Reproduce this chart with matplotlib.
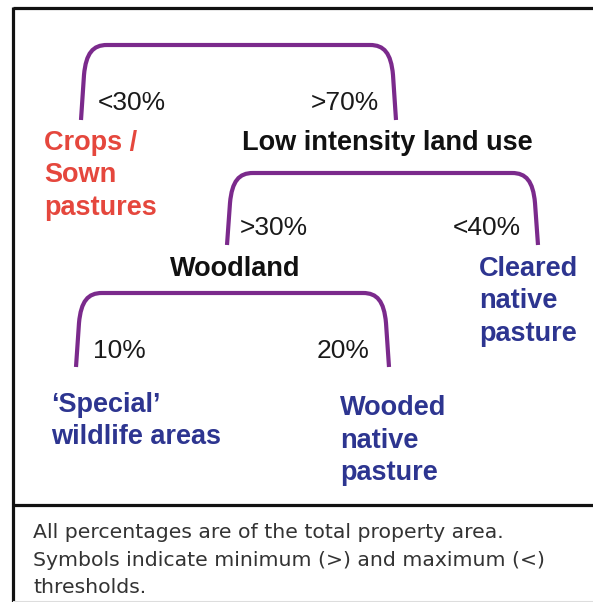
import matplotlib.pyplot as plt
from matplotlib.path import Path
from matplotlib.patches import PathPatch

# Bracket spans of the decision tree (left leg x, right leg x, top y, leg bottom y)
bracket_left = [81, 227, 76]
bracket_right = [396, 538, 389]
bracket_top = [45, 173, 293]
bracket_bottom = [120, 245, 367]

# Threshold labels on each leg
pct_labels = ['<30%', '>70%', '>30%', '<40%', '10%', '20%']
pct_x = [98, 379, 240, 521, 93, 370]
pct_y = [110, 110, 235, 235, 358, 358]
pct_ha = ['left', 'right', 'left', 'right', 'left', 'right']

# Category labels
node_labels = [['Low intensity land use'], ['Woodland']]
node_x = [242, 170]
node_y = [150, 276]

leaf_labels = [['Crops /', 'Sown', 'pastures'],
               ['Cleared', 'native', 'pasture'],
               ['\u2018Special\u2019', 'wildlife areas'],
               ['Wooded', 'native', 'pasture']]
leaf_x = [44, 479, 51, 340]
leaf_y = [150, 276, 412, 415]
leaf_colors = ['#e5473d', '#2d3590', '#2d3590', '#2d3590']

footnote = ['All percentages are of the total property area.',
            'Symbols indicate minimum (>) and maximum (<)',
            'thresholds.']

purple = '#7b2a8c'

fig = plt.figure(figsize=(5.93, 6.02), dpi=100)
ax = fig.add_axes([0, 0, 1, 1])
ax.set_xlim(0, 593)
ax.set_ylim(602, 0)
ax.axis('off')

# frame lines
ax.plot([13, 593], [8, 8], color='#111111', lw=2.3, solid_capstyle='butt')
ax.plot([13, 13], [7, 602], color='#111111', lw=2.3, solid_capstyle='butt')
ax.plot([13, 593], [505, 505], color='#111111', lw=2.3, solid_capstyle='butt')
ax.plot([13, 593], [601, 601], color='#dddddd', lw=0.8)

# rounded brackets
for x0, x1, yt, yb in zip(bracket_left, bracket_right, bracket_top, bracket_bottom):
    verts = [(x0, yb), (x0 + 3, yt + 30),
             (x0 + 5, yt + 8), (x0 + 12, yt), (x0 + 26, yt),
             (x1 - 26, yt),
             (x1 - 12, yt), (x1 - 5, yt + 8), (x1 - 3, yt + 30),
             (x1, yb)]
    codes = [Path.MOVETO, Path.LINETO,
             Path.CURVE4, Path.CURVE4, Path.CURVE4,
             Path.LINETO,
             Path.CURVE4, Path.CURVE4, Path.CURVE4,
             Path.LINETO]
    ax.add_patch(PathPatch(Path(verts, codes), facecolor='none',
                           edgecolor=purple, lw=3.0, capstyle='butt'))

font = 'Liberation Sans'
for lab, x, y, ha in zip(pct_labels, pct_x, pct_y, pct_ha):
    ax.text(x, y, lab, ha=ha, va='baseline', fontsize=19,
            family=font, color='#1a1a1a')

for lines, x, y in zip(node_labels, node_x, node_y):
    for i, line in enumerate(lines):
        ax.text(x, y + i * 32.5, line, ha='left', va='baseline', fontsize=19.5,
                family=font, weight='bold', color='#111111')

for lines, x, y, c in zip(leaf_labels, leaf_x, leaf_y, leaf_colors):
    for i, line in enumerate(lines):
        ax.text(x, y + i * 32.5, line, ha='left', va='baseline', fontsize=19.5,
                family=font, weight='bold', color=c)

for i, line in enumerate(footnote):
    ax.text(33, 538 + i * 27.5, line, ha='left', va='baseline', fontsize=14.7,
            family='DejaVu Sans', color='#333333')

fig.savefig('out.png', dpi=100)
